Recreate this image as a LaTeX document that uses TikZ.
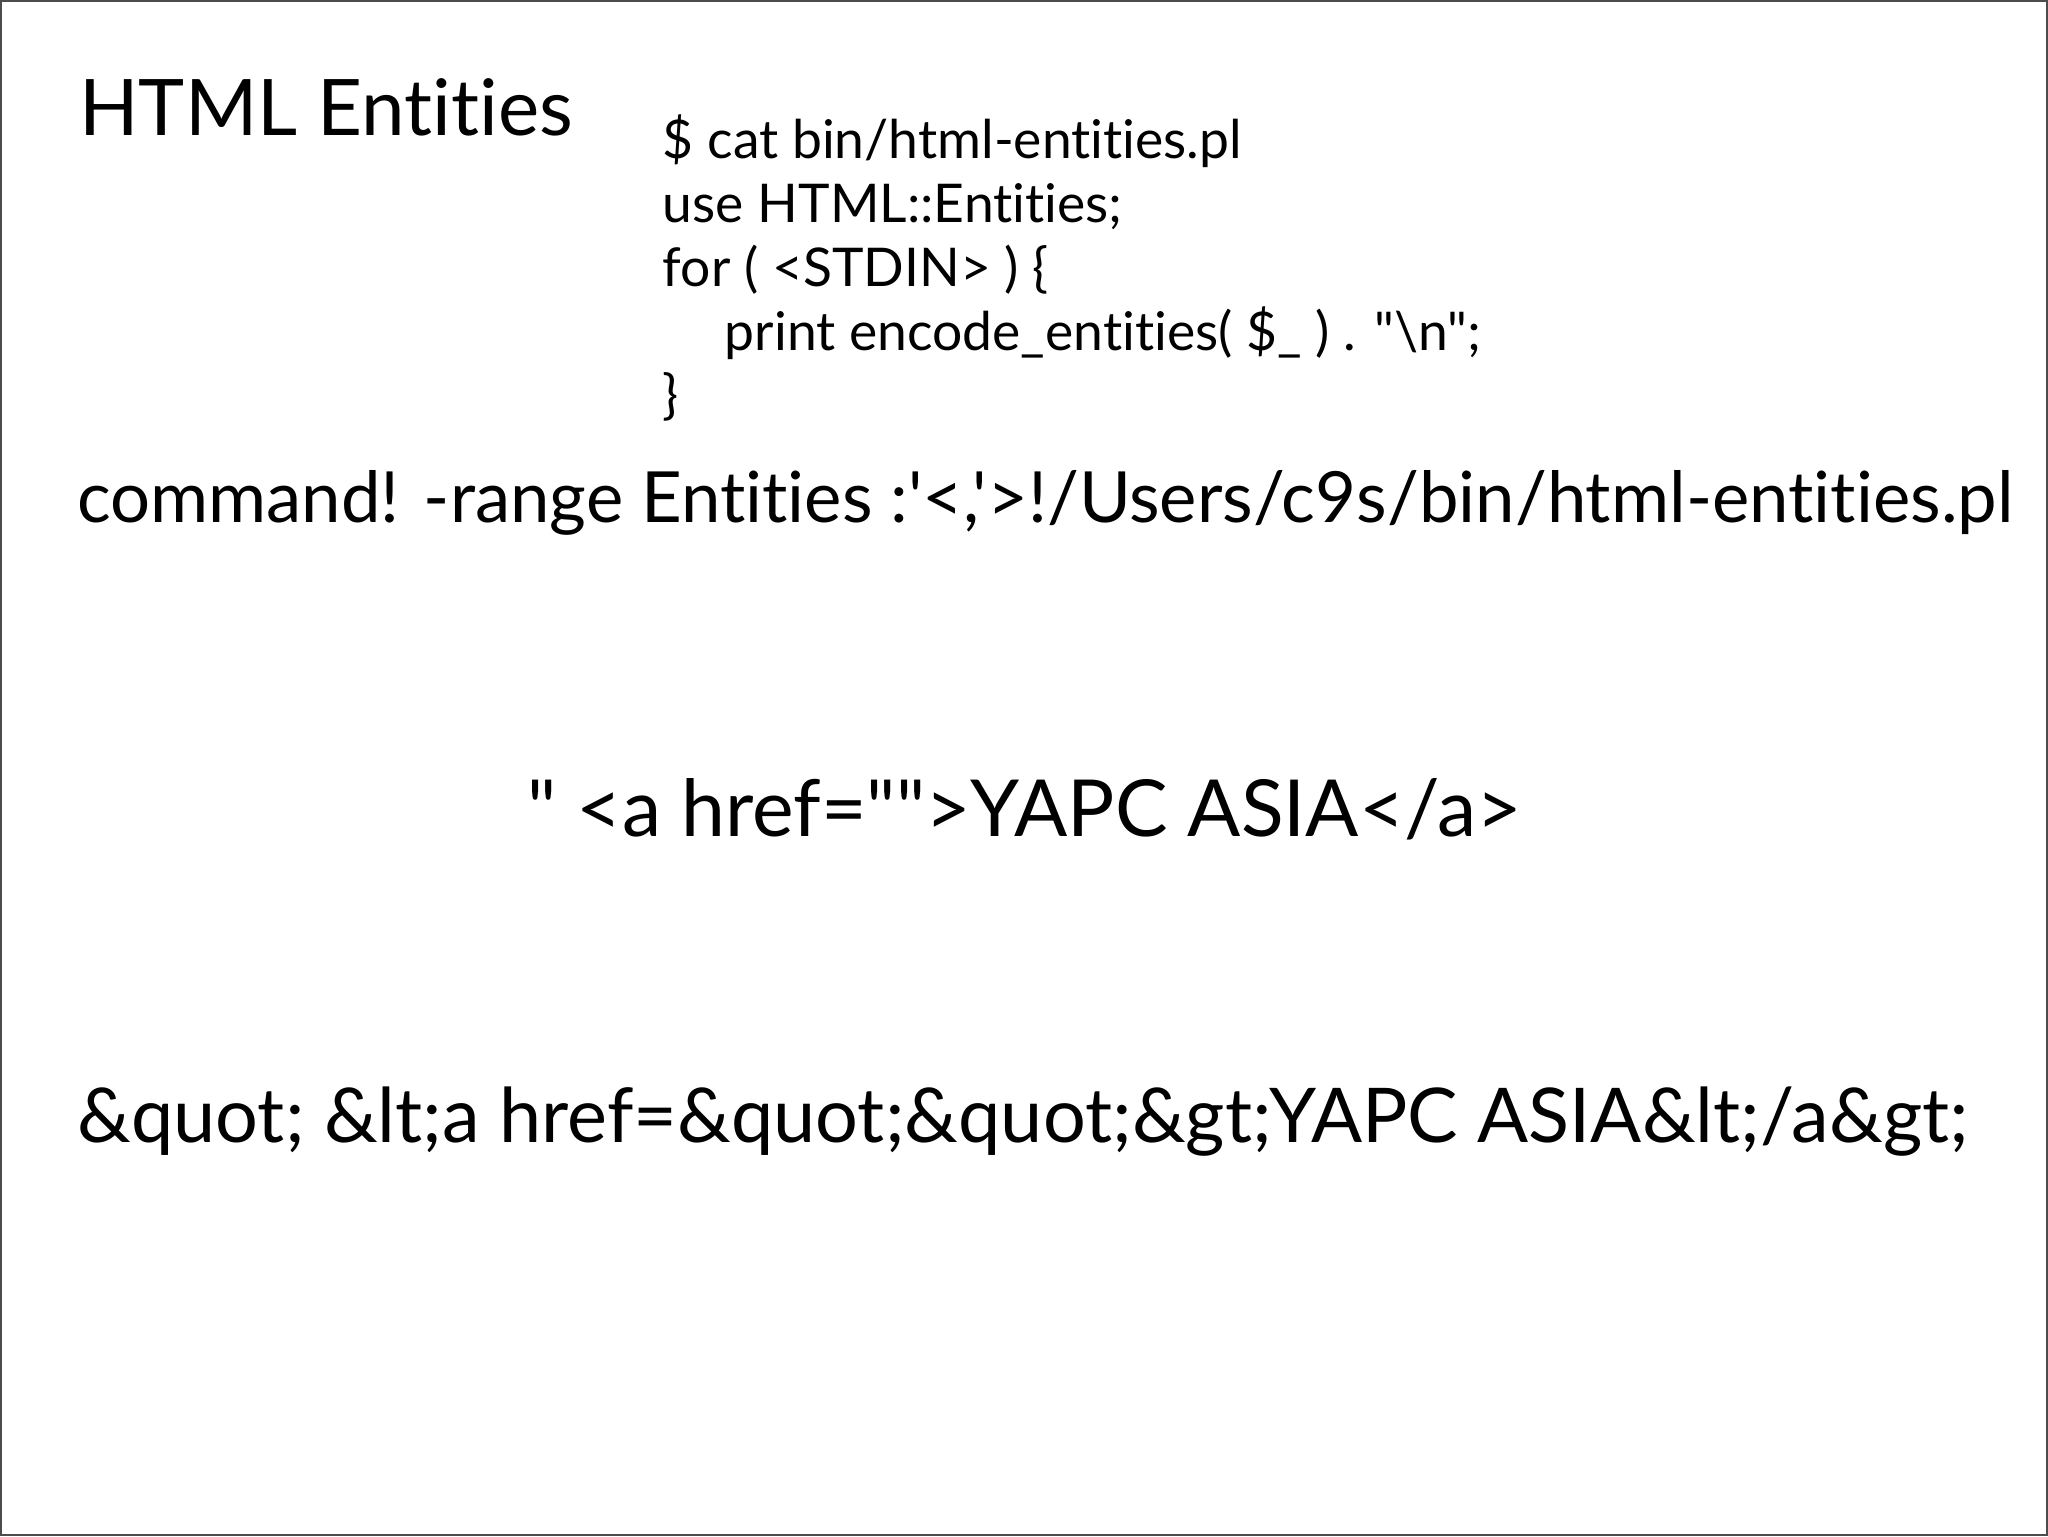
\documentclass[tikz,border=0pt]{standalone}
\usepackage{fontspec}
\setmainfont{Lato}[Ligatures={TeXOff,NoCommon}]
\begin{document}
\begin{tikzpicture}[x=0.01cm,y=-0.01cm,
  txt/.style={anchor=base west,inner sep=0pt},
  code/.style={txt,font=\fontsize{15.2}{18}\selectfont}]
\draw[black!70,line width=0.7pt] (0.5,0.5) rectangle (2047.5,1535.5);
\node[txt,font=\fontsize{22.2}{26}\selectfont] (title) at (78,135) {HTML Entities};
\node[code] (c1) at (662,158) {\$ cat bin/html-entities.pl};
\node[code] (c2) at (662,222) {use HTML::Entities;};
\node[code] (c3) at (662,286) {for ( <STDIN> ) \{};
\node[code] (c4) at (724,350) {print encode\_entities( \$\_ ) . "\textbackslash n";};
\node[code] (c5) at (662,413) {\}};
\node[txt,font=\fontsize{20.1}{24}\selectfont] (cmd) at (76,522) {command! -range Entities :'<,'>!/Users/c9s/bin/html-entities.pl};
\node[txt,font=\fontsize{22.4}{26}\selectfont] (src) at (526,836) {" <a href="">YAPC ASIA</a>};
\node[txt,font=\fontsize{21.5}{24}\selectfont] (enc) at (76,1143) {\&quot; \&lt;a href=\&quot;\&quot;\&gt;YAPC ASIA\&lt;/a\&gt;};
\end{tikzpicture}
\end{document}
